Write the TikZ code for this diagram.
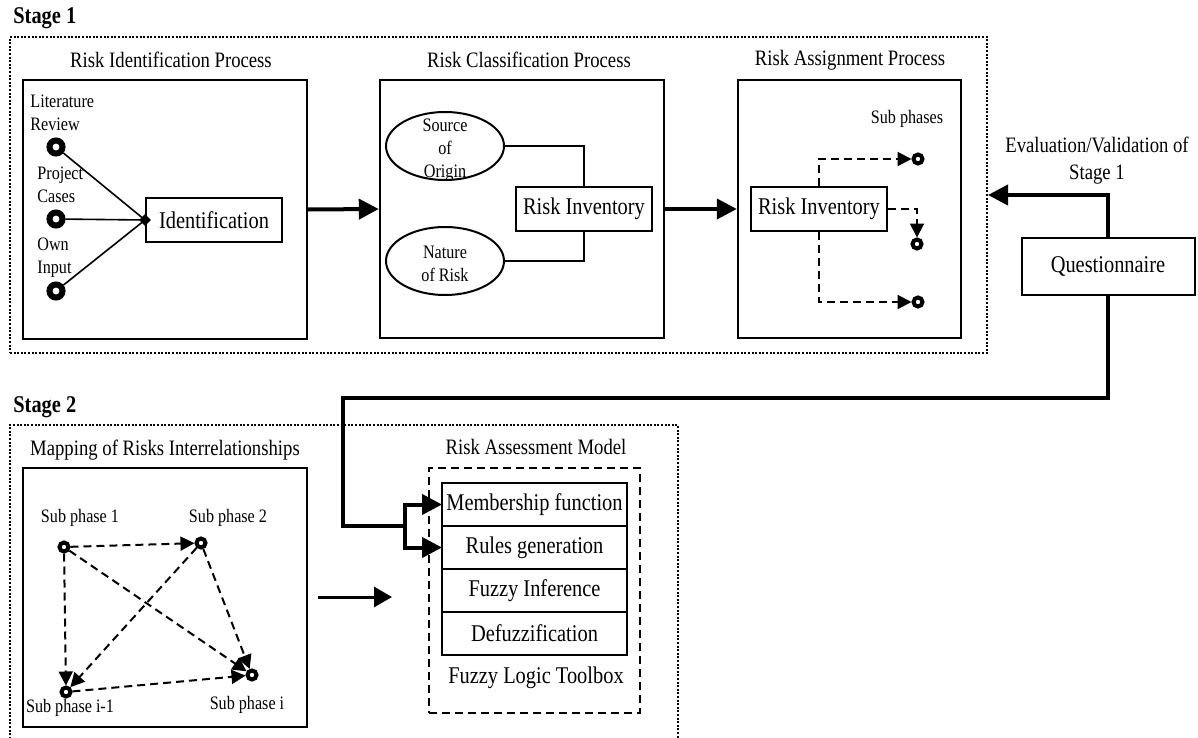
\documentclass[tikz,border=0pt]{standalone}
\usepackage{fontspec}
\setmainfont{Liberation Serif}[FakeStretch=0.85]
\usetikzlibrary{arrows.meta,positioning,fit,shapes.geometric}

\tikzset{
	stagelbl/.style={font=\bfseries\fontsize{12}{14}\selectfont, anchor=west, inner sep=0pt},
	stagebox/.style={draw, line width=1pt, dash pattern=on 1pt off 0.8pt, inner sep=0pt},
	procbox/.style={draw, line width=1.2pt, inner sep=0pt},
	proctitle/.style={font=\fontsize{11}{13.5}\selectfont, align=center, inner sep=0pt},
	itembox/.style={draw, line width=1pt, font=\fontsize{12}{14}\selectfont, minimum width=68pt, minimum height=22pt, inner sep=1pt},
	smalltext/.style={font=\fontsize{9.5}{11.5}\selectfont, inner sep=0pt},
	srcell/.style={draw, ellipse, line width=1pt, minimum width=59pt, minimum height=34pt, inner sep=0pt},
	srcring/.style={circle, draw, line width=3pt, minimum size=6.5pt, inner sep=0pt},
	subdot/.style={circle, draw, line width=2pt, minimum size=4.5pt, inner sep=0pt},
	bigarrow/.style={line width=2pt, -{Triangle[length=10pt,width=10pt]}},
	dasharrow/.style={line width=1pt, dash pattern=on 4pt off 2.5pt, -{Triangle[length=7pt,width=7pt]}},
	fuzzyrow/.style={draw, line width=1pt, font=\fontsize{12}{14}\selectfont, minimum width=92.5pt, minimum height=21.5pt, inner sep=0pt, outer sep=0pt},
}

\begin{document}
\begin{tikzpicture}[x=0.5pt, y=-0.5pt]
	\useasboundingbox (0,0) rectangle (1198,738);

	% stage 1
	\node[stagelbl] (s1lbl) at (13,18) {Stage 1};
	\node[stagebox, fit={(10,37) (987,353)}] (stage1) {};

	\node[procbox, fit={(23,80) (307,339)}] (idbox) {};
	\node[procbox, fit={(380,80) (664,338)}] (classbox) {};
	\node[procbox, fit={(738,80) (961,338)}] (assignbox) {};
	\node[proctitle] (idtitle) at (171,60) {Risk Identification Process};
	\node[proctitle] (classtitle) at (529,60) {Risk Classification Process};
	\node[proctitle] (assigntitle) at (850,60) {Risk Assignment Process};

	\node[smalltext, anchor=west, align=left] (litlbl) at (30,113) {Literature\\Review};
	\node[smalltext, anchor=west, align=left] (projlbl) at (37,185) {Project\\Cases};
	\node[smalltext, anchor=west, align=left] (ownlbl) at (37,258) {Own\\Input};
	\node[srcring] (lit) at (56,147) {};
	\node[srcring] (proj) at (56,219) {};
	\node[srcring] (own) at (56,291) {};
	\node[itembox] (ident) at (214,220) {Identification};
	\node[diamond, fill=black, inner sep=0pt, minimum size=6pt] (join) at (ident.west) {};
	\draw[line width=0.8pt] (lit) -- (join.center);
	\draw[line width=0.8pt] (proj) -- (join.center);
	\draw[line width=0.8pt] (own) -- (join.center);

	\node[srcell] (origin) at (445,146) {};
	\node[smalltext, align=center] (origintxt) at (445,150) {Source\\of\\Origin};
	\node[srcell] (nature) at (445,261) {};
	\node[smalltext, align=center] (naturetxt) at (445,264) {Nature\\of Risk};
	\node[itembox] (inv1) at (584,209) {Risk Inventory};
	\draw[line width=1.2pt] (origin.east) -| (inv1.north);
	\draw[line width=1.2pt] (nature.east) -| (inv1.south);

	\draw[bigarrow] (idbox.east) -- (classbox.west);
	\draw[bigarrow] (classbox.east) -- (assignbox.west);

	\node[smalltext] (sublbl) at (907,119) {Sub phases};
	\node[itembox] (inv2) at (819,209) {Risk Inventory};
	\node[subdot] (asg1) at (918,159) {};
	\node[subdot] (asg2) at (917,244) {};
	\node[subdot] (asg3) at (918,302) {};
	\draw[dasharrow] (inv2.north) |- (asg1);
	\draw[dasharrow] (inv2.east) -| (asg2);
	\draw[dasharrow] (inv2.south) |- (asg3);

	% feedback
	\node[proctitle] (evallbl) at (1097,161) {Evaluation/Validation of\\Stage 1};
	\node[itembox, minimum width=86.5pt, minimum height=28.5pt] (quest) at (1108,266) {Questionnaire};
	\draw[bigarrow] (quest.north) |- (stage1.east);
	\coordinate (split) at (405,526);
	\draw[line width=2pt] (quest.south) |- (343,398) |- (split);

	% stage 2
	\node[stagelbl] (s2lbl) at (13,407) {Stage 2};
	\node[stagebox, fit={(10,425) (678,750)}] (stage2) {};
	\node[procbox, fit={(23,468) (307,727)}] (mapbox) {};
	\node[proctitle] (maptitle) at (165,450) {Mapping of Risks Interrelationships};

	\node[subdot] (ph1) at (64,547) {};
	\node[subdot] (ph2) at (201,543) {};
	\node[subdot] (phim) at (66,692) {};
	\node[subdot] (phi) at (252,675) {};
	\node[smalltext] (ph1lbl) at (80,518) {Sub phase 1};
	\node[smalltext] (ph2lbl) at (228,518) {Sub phase 2};
	\node[smalltext] (phimlbl) at (70,708) {Sub phase i-1};
	\node[smalltext] (philbl) at (247,705) {Sub phase i};
	\draw[dasharrow] (ph1) -- (ph2);
	\draw[dasharrow] (ph1) -- (phim);
	\draw[dasharrow] (ph1) -- (phi);
	\draw[dasharrow] (ph2) -- (phim);
	\draw[dasharrow] (ph2) -- (phi);
	\draw[dasharrow] (phim) -- (phi);

	\coordinate (mapout) at (318,597);
	\coordinate (modelin) at (392,597);
	\draw[line width=1.5pt, -{Triangle[length=9pt,width=10pt]}] (mapout) -- (modelin);

	\node[proctitle] (modeltitle) at (536,447) {Risk Assessment Model};
	\node[draw, line width=1pt, dash pattern=on 4pt off 2.5pt, inner sep=0pt, fit={(429,468) (640,713)}] (toolbox) {};
	\node[fuzzyrow] (memb) at (534.5,504.5) {Membership function};
	\node[fuzzyrow, below=0pt of memb] (rules) {Rules generation};
	\node[fuzzyrow, below=0pt of rules] (infer) {Fuzzy Inference};
	\node[fuzzyrow, below=0pt of infer] (defuzz) {Defuzzification};
	\node[font=\fontsize{12}{14}\selectfont, inner sep=0pt] (toollbl) at (536,678) {Fuzzy Logic Toolbox};

	\draw[bigarrow] (split) |- (memb.west);
	\draw[bigarrow] (split) |- (rules.west);
\end{tikzpicture}
\end{document}
